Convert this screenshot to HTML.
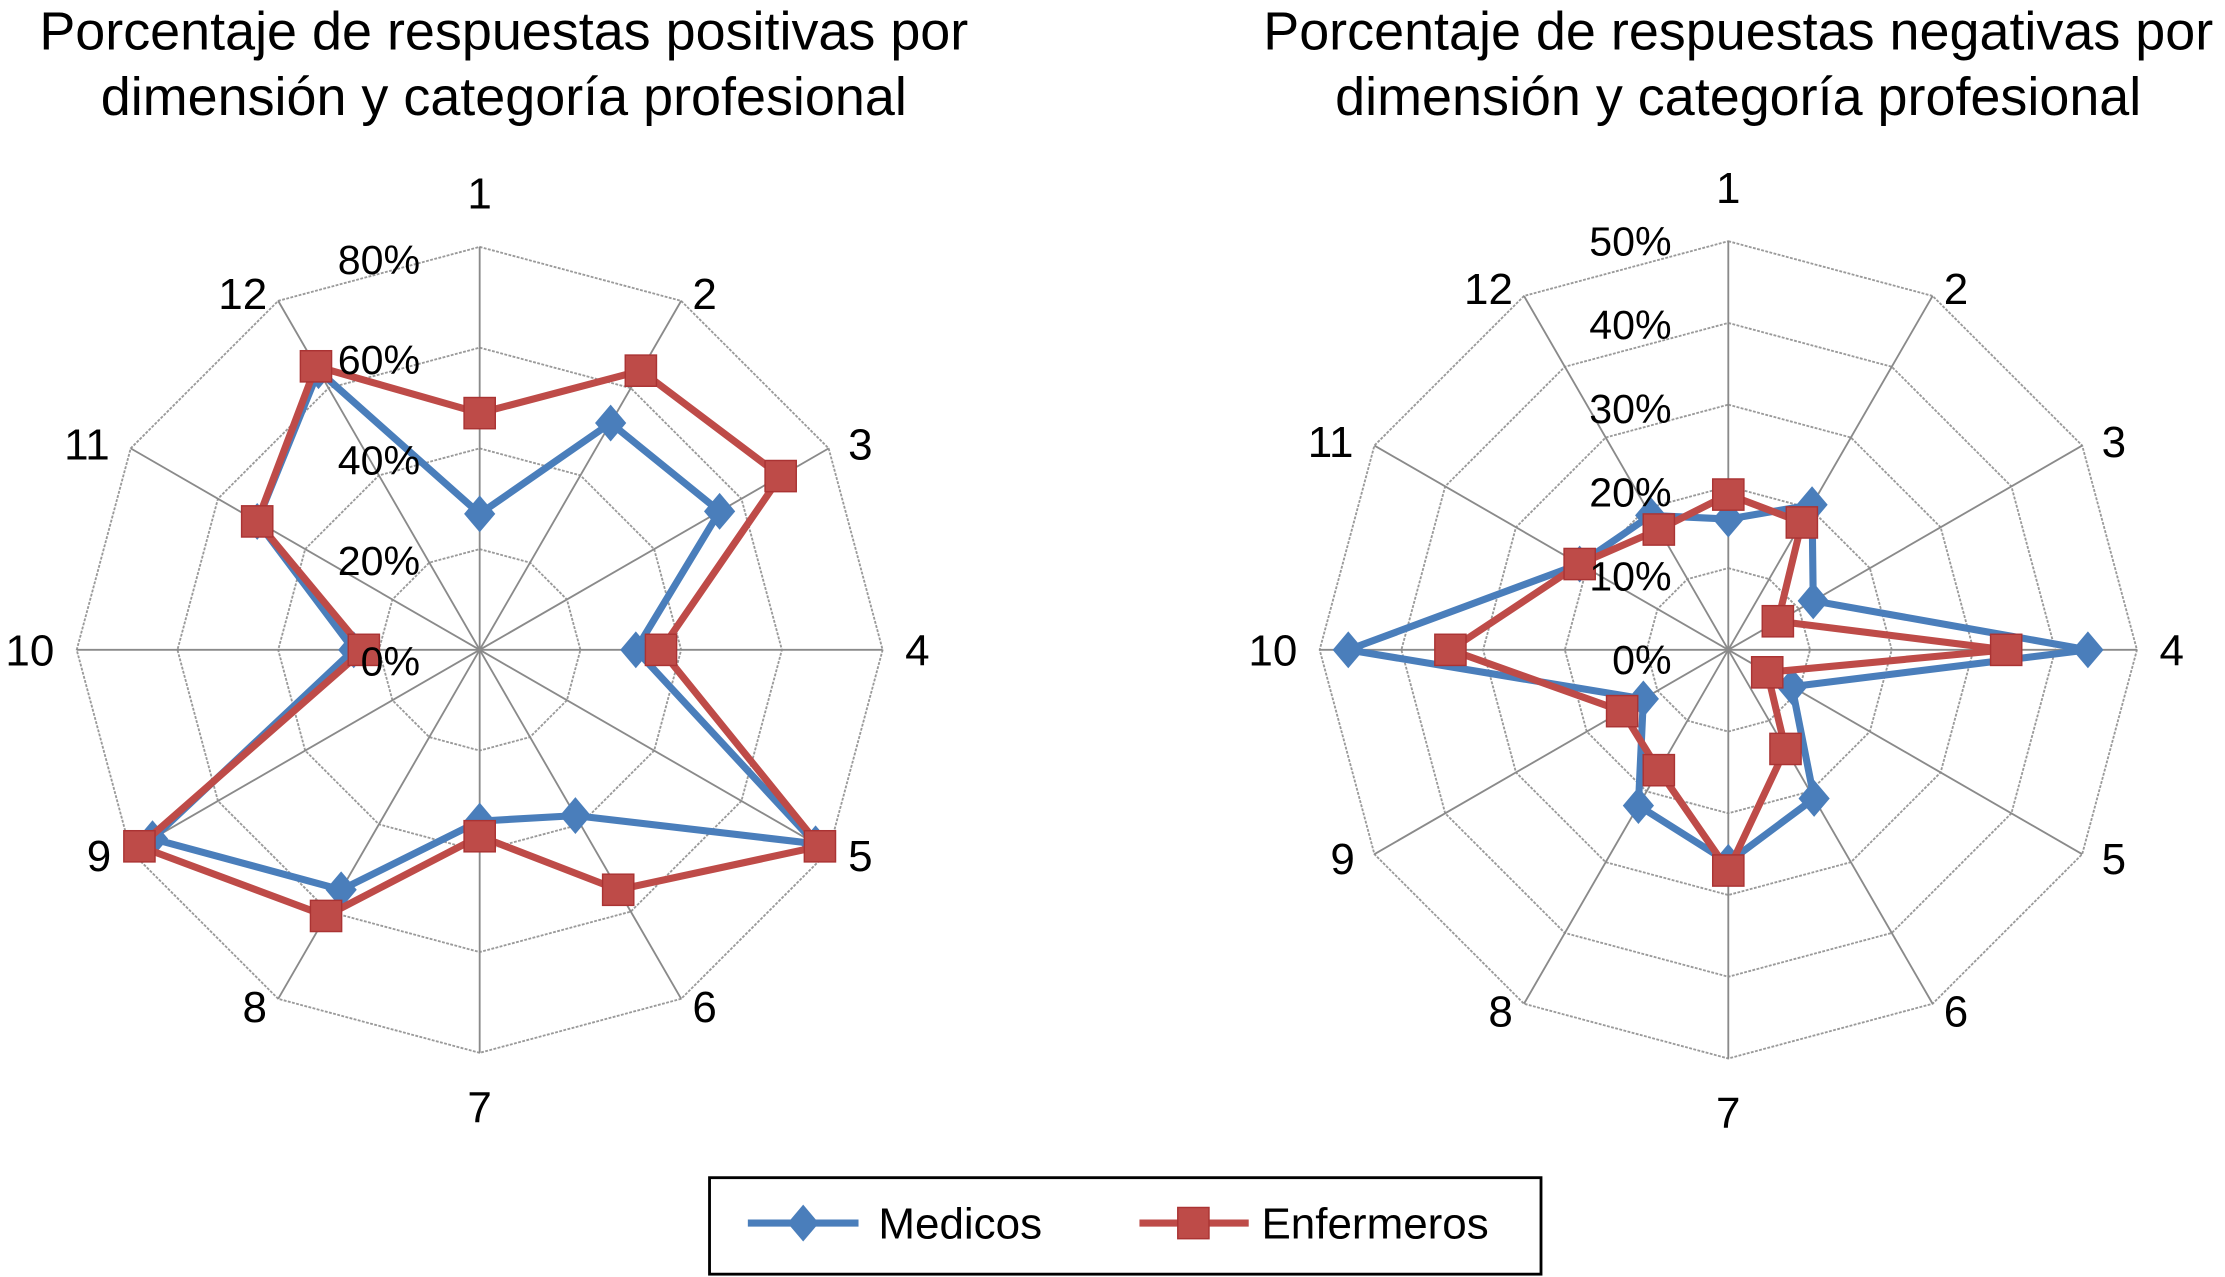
<!DOCTYPE html>
<html><head><meta charset="utf-8"><style>
html,body{margin:0;padding:0;background:#fff;overflow:hidden;}
svg{display:block;font-family:"Liberation Sans",sans-serif;}
</style></head><body>
<svg id="chart" width="2225" height="1277" viewBox="0 0 1568 900" xmlns="http://www.w3.org/2000/svg">
<text x="355" y="35" font-size="38" text-anchor="middle">Porcentaje de respuestas positivas por</text>
<text x="355" y="81" font-size="38" text-anchor="middle">dimensión y categoría profesional</text>
<text x="1225" y="35" font-size="38" text-anchor="middle">Porcentaje de respuestas negativas por</text>
<text x="1225" y="81" font-size="38" text-anchor="middle">dimensión y categoría profesional</text>
<g id="left"></g>
<g id="right"></g>
<g>
<rect x="500" y="830" width="586" height="68" fill="#fff" stroke="#000" stroke-width="2"/>
<g>
<line x1="527" y1="862" x2="605" y2="862" stroke="#4a7ebb" stroke-width="5"/>
<polygon points="566,849 577,862 566,875 555,862" fill="#4a7ebb"/>
<text x="619" y="873" font-size="31">Medicos</text></g>
<g>
<line x1="803" y1="862" x2="880" y2="862" stroke="#be4b48" stroke-width="5"/>
<rect x="830" y="851" width="22" height="22" fill="#be4b48" stroke="#a33" stroke-width="1"/>
<text x="889" y="873" font-size="31">Enfermeros</text></g>
</g>
</svg>
<script>
const categories = ["1","2","3","4","5","6","7","8","9","10","11","12"];
const posMedicos = [27,52,55,31,77,38,34,55,75,25,51,64];
const posEnfermeros = [47,64,69,36,78,55,37,61,78,23,51,65];
const posTicks = [0,20,40,60,80];
const negMedicos = [16,20.5,12,44,9,21,26,22,12,46.5,21,19];
const negEnfermeros = [19,18,7,34,5.5,14,27,17,15,34,21,17];
const negTicks = [0,10,20,30,40,50];
const NS="http://www.w3.org/2000/svg";
function mk(tag,attrs,parent){const e=document.createElementNS(NS,tag);for(const k in attrs)e.setAttribute(k,attrs[k]);parent.appendChild(e);return e;}
function drawRadar(g,cx,cy,R,ticks,s1,s2,tickX,tickOff0,tickOffMax,prefix){
  const max=ticks[ticks.length-1];
  const ang=i=>(-90+30*i)*Math.PI/180;
  const pt=(i,v)=>[cx+Math.cos(ang(i))*v/max*R, cy+Math.sin(ang(i))*v/max*R];
  ticks.forEach((t,k)=>{if(t===0)return;
    const pts=categories.map((c,i)=>pt(i,t).join(',')).join(' ');
    const p=mk('polygon',{points:pts,fill:'none',stroke:'#9a9a9a','stroke-width':1.3,'stroke-dasharray':'2,1'},g);
    
    
  });
  categories.forEach((c,i)=>{
    const [x,y]=pt(i,max);
    const l=mk('line',{x1:cx,y1:cy,x2:x,y2:y,stroke:'#8a8a8a','stroke-width':1.3},g);
    
    
    const co=Math.cos(ang(i)), si=Math.sin(ang(i));
    const hw=c.length*8.5;
    const lx=x+co*16+(co>0.1?hw:co<-0.1?-hw:0);
    const ly=y+si*6+(Math.abs(si)>0.9?si*32:0);
    const t=mk('text',{x:lx,y:ly+11,'font-size':31,'text-anchor':'middle'},g);
    t.textContent=c;
    
    
  });
  const series=[[s1,'#4a7ebb','d','medicos'],[s2,'#be4b48','s','enfermeros']];
  series.forEach(([vals,col,m,nm])=>{
    const pts=vals.map((v,i)=>pt(i,v).join(',')).join(' ');
    const p=mk('polygon',{points:pts,fill:'none',stroke:col,'stroke-width':5,'stroke-linejoin':'round'},g);
    
    
    vals.forEach((v,i)=>{const [x,y]=pt(i,v);let e;
      if(m==='d') e=mk('polygon',{points:`${x},${y-13} ${x+11},${y} ${x},${y+13} ${x-11},${y}`,fill:col},g);
      else e=mk('rect',{x:x-11,y:y-11,width:22,height:22,fill:col,stroke:'#a33','stroke-width':1},g);
      
      
    });
  });
  ticks.forEach(t=>{
    const f=t/max;
    const y=cy-f*R+tickOff0+(tickOffMax-tickOff0)*f;
    const tx=mk('text',{x:tickX,y:y+10,'font-size':29,'text-anchor':'end'},g);
    tx.textContent=t+'%';
    
    
  });
}
drawRadar(document.getElementById('left'),338,458,284,posTicks,posMedicos,posEnfermeros,296,8,9,'pos');
drawRadar(document.getElementById('right'),1218,458,288,negTicks,negMedicos,negEnfermeros,1178,7,0,'neg');
</script>
</body></html>
